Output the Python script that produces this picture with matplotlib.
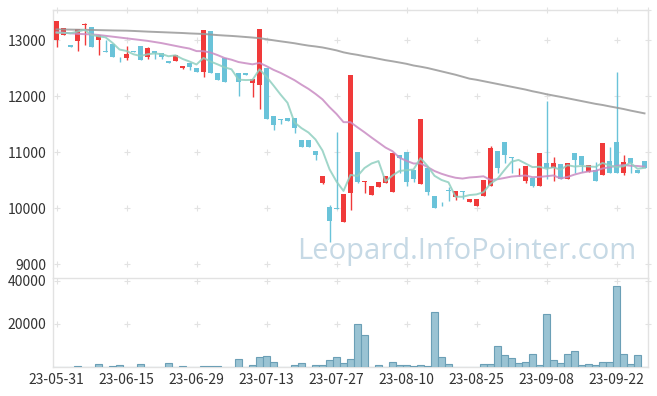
import numpy as np
import matplotlib
matplotlib.use("Agg")
import matplotlib.pyplot as plt

plt.rcParams['font.family'] = ['Noto Sans CJK KR', 'DejaVu Sans']

# daily candles, 23-05-31 .. 23-10-04 (85 trading days)
opens = [13000, 13095, 12910, 12990, 13270, 13230, 13000, 12800, 12930, 12700,
         12680, 12800, 12890, 12700, 12800, 12770, 12625, 12630, 12505, 12590,
         12500, 12435, 13160, 12410, 12685, 12270, 12410, 12410, 12240, 12200,
         12500, 11645, 11590, 11605, 11605, 11215, 11215, 11020, 10450, 10020,
         10000, 9755, 10260, 10995, 10470, 10240, 10380, 10450, 10285, 10945,
         11005, 10680, 10420, 10715, 10215, 10110, 10315, 10200, 10305, 10115,
         10040, 10220, 10395, 11020, 11180, 10905, 10655, 10490, 10540, 10400,
         10800, 10710, 10785, 10525, 10980, 10925, 10650, 10680, 10595, 10840,
         11180, 10630, 10885, 10680, 10840]
highs = [13340, 13215, 12910, 13195, 13310, 13230, 13090, 13000, 12930, 12702,
         12890, 12800, 12890, 12880, 12800, 12770, 12625, 12725, 12535, 12590,
         12500, 13180, 13160, 12410, 12685, 12270, 12410, 12410, 12300, 13195,
         12500, 11645, 11590, 11605, 11605, 11215, 11215, 11020, 10570, 10054,
         11350, 10250, 12375, 10995, 10490, 10395, 10465, 10570, 10990, 10945,
         11005, 10680, 11590, 10715, 10215, 10110, 10380, 10310, 10305, 10160,
         10160, 10500, 11107, 11020, 11180, 10905, 10708, 10750, 10540, 10980,
         11910, 10905, 10785, 10805, 10990, 10925, 10760, 10815, 11155, 11085,
         12435, 10952, 10885, 10680, 10840]
lows = [12880, 13095, 12880, 12800, 12905, 12880, 12730, 12790, 12700, 12610,
        12640, 12790, 12640, 12655, 12655, 12655, 12595, 12630, 12482, 12460,
        12435, 12345, 12405, 12285, 12255, 12260, 12000, 12370, 11990, 11760,
        11595, 11390, 11495, 11560, 11335, 11090, 11090, 10855, 10423, 9400,
        9990, 9755, 9965, 10450, 10260, 10240, 10380, 10450, 10285, 10630,
        10393, 10470, 10420, 10240, 10005, 10036, 10120, 10143, 10155, 10115,
        10040, 10220, 10395, 10619, 10800, 10619, 10570, 10440, 10370, 10400,
        10524, 10488, 10525, 10525, 10620, 10643, 10650, 10490, 10595, 10630,
        10630, 10590, 10620, 10630, 10708]
closes = [13340, 13215, 12880, 13195, 13285, 12880, 13090, 12790, 12700, 12690,
          12755, 12790, 12640, 12855, 12760, 12700, 12595, 12725, 12535, 12525,
          12435, 13180, 12405, 12285, 12255, 12260, 12255, 12370, 12300, 13195,
          11595, 11480, 11565, 11560, 11435, 11090, 11090, 10945, 10570, 9770,
          9990, 10250, 12375, 10470, 10485, 10395, 10465, 10570, 10990, 10885,
          10470, 10520, 11590, 10290, 10005, 10100, 10305, 10310, 10280, 10160,
          10160, 10500, 11070, 10720, 10945, 10895, 10665, 10750, 10395, 10980,
          10715, 10800, 10525, 10805, 10860, 10760, 10760, 10490, 11155, 10630,
          10630, 10815, 10800, 10630, 10710]
volumes = [0, 0, 0, 600, 0, 0, 1540, 0, 600, 1060,
           0, 0, 1540, 0, 0, 0, 1850, 0, 600, 0,
           0, 600, 600, 600, 0, 0, 3850, 0, 1060, 4600,
           5230, 2460, 0, 0, 1060, 1850, 0, 1060, 1060, 3390,
           4600, 1850, 3850, 20000, 14780, 0, 1060, 0, 2300, 900,
           900, 460, 900, 460, 25400, 4600, 1380, 300, 0, 0,
           0, 1380, 1380, 9700, 5540, 4160, 1850, 2300, 6000, 900,
           24600, 3390, 1850, 6000, 7540, 900, 1380, 900, 2300, 2300,
           37560, 6000, 1380, 5540, 0]

# long moving average (grey)
ma_long = [13190, 13188, 13186, 13184, 13182, 13180, 13177, 13174, 13171, 13169,
           13167, 13162, 13156, 13150, 13145, 13140, 13135, 13130, 13125, 13118,
           13113, 13108, 13098, 13088, 13080, 13073, 13064, 13054, 13044, 13033,
           13014, 12995, 12977, 12960, 12942, 12920, 12900, 12885, 12867, 12842,
           12815, 12780, 12755, 12735, 12710, 12690, 12665, 12640, 12620, 12598,
           12575, 12545, 12524, 12500, 12470, 12440, 12410, 12380, 12345, 12310,
           12290, 12265, 12240, 12215, 12190, 12165, 12140, 12115, 12085, 12060,
           12032, 12008, 11985, 11960, 11935, 11910, 11885, 11860, 11840, 11815,
           11792, 11768, 11740, 11715, 11690]
# first points of the 5 and 20 day averages (need days before the window)
ma5_head = [13130, 13130, 13120, 13150]
ma20_head = [13140, 13130, 13120, 13110, 13105, 13100, 13090, 13075, 13060, 13045,
             13030, 13015, 13000, 12985, 12965, 12945, 12920, 12895, 12870]

tick_labels = ['23-05-31', '23-06-15', '23-06-29', '23-07-13', '23-07-27',
               '23-08-10', '23-08-25', '23-09-08', '23-09-22']

n = len(closes)
x = np.arange(n)
o = np.array(opens); h = np.array(highs); l = np.array(lows); c = np.array(closes)

def rolling(vals, w, head):
    out = list(head)
    for i in range(len(head), len(vals)):
        out.append(np.mean(vals[i - w + 1:i + 1]))
    return np.array(out)

ma5 = rolling(c, 5, ma5_head)
ma20 = rolling(c, 20, ma20_head)

RED = '#f03a3a'
BLUE = '#6ac3d9'
GRID = '#e2e2e2'

fig = plt.figure(figsize=(6.57, 3.96), dpi=100)
ax = fig.add_axes([53/657, 118/396, 595/657, 268/396])
axv = fig.add_axes([53/657, 28.7/396, 595/657, 89/396])

up = c >= o
cols = np.where(up, RED, BLUE)
ax.vlines(x, l, h, colors=cols, linewidth=1.0, zorder=2)
body_lo = np.minimum(o, c)
body_h = np.maximum(np.abs(c - o), 14)
ax.bar(x, body_h, bottom=body_lo, width=0.72, color=cols, linewidth=0, zorder=3)

ax.plot(x, ma_long, color='#999999', linewidth=1.4, alpha=0.85, zorder=4)
ax.plot(x, ma20, color='#c98cc3', linewidth=1.4, alpha=0.85, zorder=4)
ax.plot(x, ma5, color='#8fcfc0', linewidth=1.4, alpha=0.85, zorder=4)

ax.set_xlim(-0.5, n - 0.5)
ax.set_ylim(8750, 13536)
ax.set_yticks([9000, 10000, 11000, 12000, 13000])
ax.set_xticks([])

axv.bar(x, volumes, width=1.0, color='#9ac3d3', edgecolor='#6b9fb6', linewidth=0.8, zorder=3)
axv.set_xlim(-0.5, n - 0.5)
axv.set_ylim(0, 41100)
axv.set_yticks([20000, 40000])
tick_pos = list(range(0, n, 10))[:len(tick_labels)]
axv.set_xticks(tick_pos)
axv.set_xticklabels(tick_labels)

# grid drawn as small crosses
for a, ys in ((ax, [9000, 10000, 11000, 12000, 13000, 13536]), (axv, [20000, 40000])):
    gx, gy = np.meshgrid(tick_pos + [n - 0.5], ys)
    a.scatter(gx.ravel(), gy.ravel(), marker='+', s=16, color=GRID, linewidths=0.8,
              zorder=1, clip_on=False)

for a in (ax, axv):
    for s in a.spines.values():
        s.set_color(GRID)
        s.set_linewidth(1.0)
    a.tick_params(length=0, labelsize=10, colors='#333333', pad=5)
ax.spines['bottom'].set_visible(False)
axv.tick_params(axis='x', pad=4)

fig.text(0.711, 0.364, 'Leopard.InfoPointer.com', fontsize=21, color='#c6d9e5',
         ha='center', va='center', family='Open Sans', zorder=0)

fig.savefig('out.png', dpi=100)
